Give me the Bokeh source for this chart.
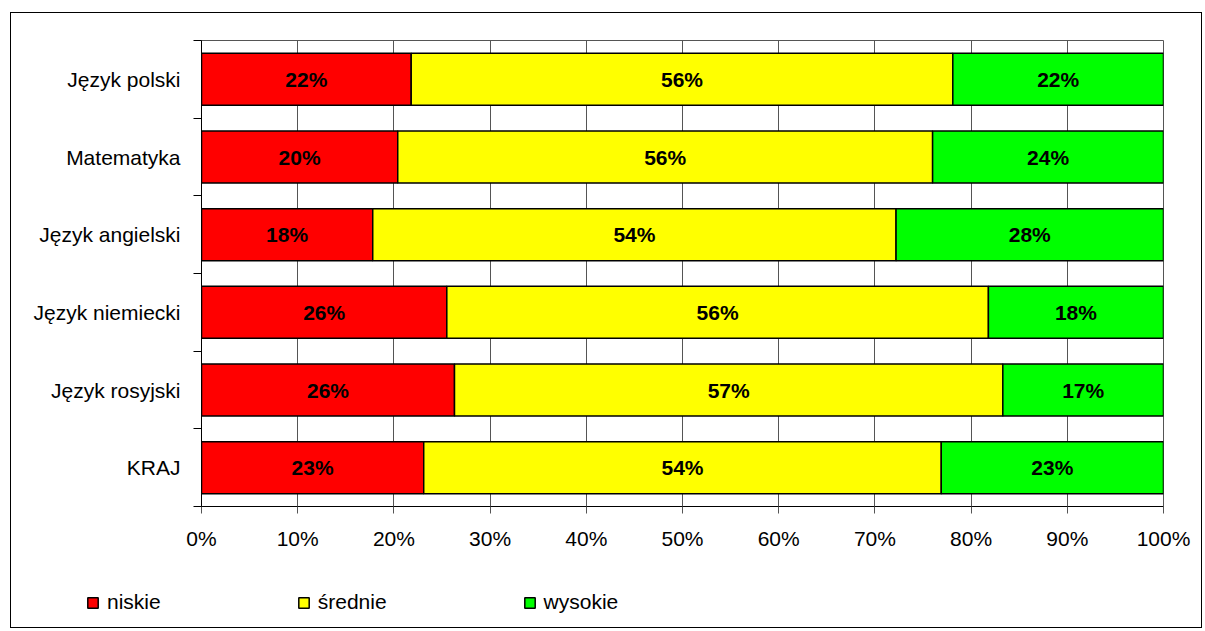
from bokeh.plotting import figure
from bokeh.models import (ColumnDataSource, Range1d, FixedTicker, PrintfTickFormatter,
                          Legend, LegendItem, LabelSet)
from bokeh.core.properties import value
from bokeh.embed import file_html
from bokeh.resources import INLINE

# ---- data ----
categories = ["Język polski", "Matematyka", "Język angielski",
              "Język niemiecki", "Język rosyjski", "KRAJ"]
niskie = [21.8, 20.4, 17.8, 25.5, 26.3, 23.1]
srednie = [56.3, 55.6, 54.4, 56.3, 57.0, 53.8]
wysokie = [21.9, 24.0, 27.8, 18.2, 16.7, 23.1]
series_names = ["niskie", "średnie", "wysokie"]
series_values = [niskie, srednie, wysokie]
colors = ["#FF0000", "#FFFF00", "#00FF00"]
x_ticks = list(range(0, 101, 10))

FONT = "Liberation Sans"
n = len(categories)
ypos = [n - 1 - i + 0.5 for i in range(n)]

# ---- main chart ----
p = figure(width=1192, height=560, output_backend="svg", toolbar_location=None,
           x_range=Range1d(0, 100), y_range=Range1d(0, n),
           min_border_left=190, min_border_right=40, min_border_top=27,
           min_border_bottom=67)
p.styles = {"border-left": "1px solid black", "border-top": "1px solid black",
            "border-right": "1px solid black", "margin-left": "10px",
            "margin-top": "12px"}

sources = []
lab_x, lab_y, lab_t = [], [], []
cum = [0.0] * n
for name, vals, col in zip(series_names, series_values, colors):
    left = list(cum)
    right = [c + v for c, v in zip(cum, vals)]
    src = ColumnDataSource(dict(y=ypos, left=left, right=right))
    sources.append(src)
    p.hbar(y="y", left="left", right="right", height=0.67, source=src,
           fill_color=col, line_color="black", line_width=1.5)
    for i in range(n):
        lab_x.append((left[i] + right[i]) / 2)
        lab_y.append(ypos[i])
        lab_t.append(f"{round(vals[i])}%")
    cum = right

lsrc = ColumnDataSource(dict(x=lab_x, y=lab_y, t=lab_t))
p.add_layout(LabelSet(x="x", y="y", text="t", source=lsrc, text_align="center",
                      text_baseline="middle", text_font=value(FONT),
                      text_font_size="21px", text_font_style="bold",
                      text_color="black"))

# x axis
p.xaxis.ticker = FixedTicker(ticks=x_ticks)
p.xaxis.formatter = PrintfTickFormatter(format="%d%%")
p.xaxis.major_tick_out = 7
p.xaxis.major_tick_in = 0
p.xaxis.minor_tick_out = 0
p.xaxis.minor_tick_in = 0
p.xaxis.major_tick_line_color = "#555555"
p.xaxis.axis_line_color = "black"
p.xaxis.major_label_text_font = FONT
p.xaxis.major_label_text_font_size = "21px"
p.xaxis.major_label_text_color = "black"
p.xaxis.major_label_standoff = 13

# y axis
p.yaxis.ticker = FixedTicker(ticks=ypos, minor_ticks=list(range(n + 1)))
p.yaxis.major_label_overrides = {y: c for y, c in zip(ypos, categories)}
p.yaxis.major_tick_out = 0
p.yaxis.major_tick_in = 0
p.yaxis.minor_tick_out = 8
p.yaxis.minor_tick_in = 0
p.yaxis.minor_tick_line_color = "black"
p.yaxis.axis_line_color = "black"
p.yaxis.major_label_text_font = FONT
p.yaxis.major_label_text_font_size = "21px"
p.yaxis.major_label_text_color = "black"
p.yaxis.major_label_standoff = 13

p.ygrid.grid_line_color = None
p.xgrid.ticker = FixedTicker(ticks=x_ticks)
p.xgrid.grid_line_color = "#555555"
p.xgrid.grid_line_width = 1
p.outline_line_color = "#555555"

# ---- legend strip (separate root, its glyphs lie outside its view) ----
lf = figure(width=1192, height=56, output_backend="svg", toolbar_location=None,
            x_range=Range1d(0, 100), y_range=Range1d(100, 101),
            x_axis_location=None, y_axis_location=None, min_border=0)
lf.styles = {"border-left": "1px solid black", "border-right": "1px solid black",
             "border-bottom": "1px solid black", "margin-left": "10px"}
lf.grid.grid_line_color = None
lf.outline_line_color = None
items = []
for name, col, src in zip(series_names, colors, sources):
    r = lf.hbar(y="y", left="left", right="right", height=0.67, source=src,
                fill_color=col, line_color="black", line_width=1.5)
    items.append(LegendItem(label=name, renderers=[r]))
legend = Legend(items=items, location=(75, 14), orientation="horizontal",
                glyph_width=13, glyph_height=13, label_standoff=8, spacing=136,
                padding=0, margin=0, border_line_alpha=0, background_fill_alpha=0,
                label_text_font=FONT, label_text_font_size="21px",
                label_text_color="black")
lf.add_layout(legend)

open("out.html", "w").write(file_html([p, lf], INLINE))
